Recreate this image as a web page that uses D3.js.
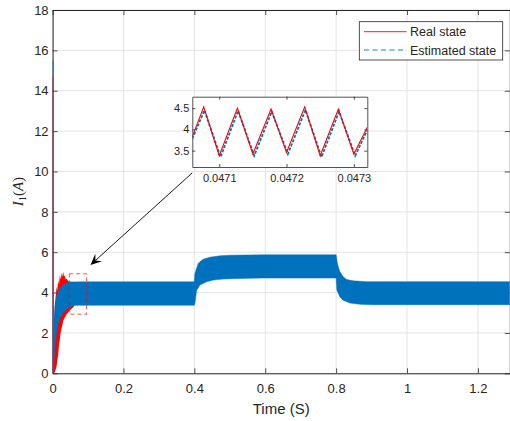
<!DOCTYPE html>
<html>
<head>
<meta charset="utf-8">
<script src="https://cdn.jsdelivr.net/npm/d3@7"></script>
<style>
  body { margin: 0; background: #fff; }
  text { font-family: "Liberation Sans", Arial, sans-serif; fill: #262626; }
</style>
</head>
<body>
<svg id="chart"></svg>
<script>
// taille de la figure
const width = 510, height = 421;

// ---- données ----
const xTicks = [0, 0.2, 0.4, 0.6, 0.8, 1, 1.2];
const yTicks = [0, 2, 4, 6, 8, 10, 12, 14, 16, 18];

// enveloppe de l'état estimé (bande bleue), [t, I1]
const estUpper = [[0,0.3],[0.0018,1.5],[0.0037,2.6],[0.0065,3.3],[0.0113,3.8],[0.016,4.05],[0.0206,4.22],
  [0.030,4.38],[0.0394,4.47],[0.0488,4.52],[0.08,4.53],[0.3996,4.53],[0.4015,4.95],[0.411,5.45],
  [0.425,5.65],[0.444,5.75],[0.472,5.82],[0.5,5.85],[0.6,5.87],[0.8,5.87],[0.803,5.5],[0.806,5.28],
  [0.8107,5.03],[0.82,4.78],[0.8296,4.65],[0.848,4.58],[0.886,4.54],[1.29,4.54]];
const estLower = [[0,0],[0.002,0.16],[0.0065,1.32],[0.0113,2.07],[0.016,2.48],[0.0206,2.73],[0.030,3.0],
  [0.0395,3.17],[0.0488,3.28],[0.058,3.35],[0.067,3.37],[0.3996,3.37],[0.4015,3.45],[0.4063,4.1],
  [0.4156,4.37],[0.4345,4.53],[0.4534,4.62],[0.4814,4.67],[0.5285,4.7],[0.594,4.72],[0.8,4.72],
  [0.802,4.12],[0.8107,3.78],[0.82,3.62],[0.839,3.48],[0.867,3.42],[0.905,3.4],[1.29,3.4]];

// enveloppe de l'état réel au démarrage (rouge)
const realUpper = [[0.002,1.0],[0.0065,3.4],[0.0113,4.3],[0.013,4.1],[0.016,4.6],[0.018,4.4],[0.0206,4.88],
  [0.023,4.65],[0.026,5.0],[0.028,4.8],[0.030,5.04],[0.032,4.8],[0.034,4.85],[0.037,4.65],[0.040,4.68],
  [0.044,4.56],[0.05,4.53],[0.06,4.52]];
const realLower = [[0.002,0],[0.0065,0.05],[0.0113,0.35],[0.013,0.6],[0.016,0.95],[0.018,1.4],[0.0206,1.7],
  [0.023,2.05],[0.0254,2.25],[0.028,2.4],[0.030,2.6],[0.034,2.75],[0.0395,2.92],[0.0488,3.12],[0.06,3.3]];

// pic initial
const estSpike = [[0,0],[0.0004,15.5],[0.0009,0.5]];
const realSpike = [[0,0],[0.0004,14.7],[0.0009,0.3]];

// zoom (encart)
const insetXTicks = [0.0471, 0.0472, 0.0473];
const insetYTicks = [3.5, 4, 4.5];
const realInsetT = [0.04706, 0.047077, 0.0471, 0.047127, 0.04715, 0.047177, 0.0472, 0.047227, 0.04725, 0.047277, 0.0473, 0.04732];
const realInsetV = [3.83, 4.53, 3.38, 4.5, 3.42, 4.48, 3.46, 4.53, 3.38, 4.48, 3.42, 4.05];
const estInsetT = [0.04706, 0.047078, 0.047102, 0.047128, 0.047152, 0.047178, 0.047202, 0.047228, 0.047252, 0.047278, 0.047302, 0.04732];
const estInsetV = [3.78, 4.45, 3.35, 4.44, 3.38, 4.42, 3.42, 4.46, 3.35, 4.42, 3.38, 3.98];

// rectangle de zoom et flèche (coordonnées des données)
const zoomBox = { t0: 0.047, t1: 0.096, y0: 2.93, y1: 4.93 };
const arrowFrom = [0.394, 9.93], arrowTo = [0.107, 5.37];

const blue = "#0072BD", red = "#FF0000", axisColor = "#262626", gridColor = "#e4e4e4";

const svg = d3.select("#chart").attr("width", width).attr("height", height);
svg.append("rect").attr("width", width).attr("height", height).attr("fill", "#fff");

// échelles
const x = d3.scaleLinear().domain([0, 1.29]).range([52.6, 509.8]);
const y = d3.scaleLinear().domain([0, 18]).range([373.3, 10]);
const [L, R] = x.range(), [B, T] = y.range();

// grille
svg.append("g").selectAll("line").data(xTicks).join("line")
  .attr("x1", d => x(d)).attr("x2", d => x(d)).attr("y1", T).attr("y2", B)
  .attr("stroke", gridColor);
svg.append("g").selectAll("line").data(yTicks).join("line")
  .attr("x1", L).attr("x2", R).attr("y1", d => y(d)).attr("y2", d => y(d))
  .attr("stroke", gridColor);

// axes
function styleAxis(g) {
  g.selectAll("path, line").attr("stroke", axisColor).attr("stroke-width", 0.8);
  g.selectAll("text").attr("font-size", 13).style("fill", axisColor);
}
svg.append("g").attr("transform", `translate(0,${B})`)
  .call(d3.axisBottom(x).tickValues(xTicks).tickFormat(String).tickSizeInner(-5).tickSizeOuter(0).tickPadding(10))
  .call(styleAxis);
svg.append("g").attr("transform", `translate(${L},0)`)
  .call(d3.axisLeft(y).tickValues(yTicks).tickFormat(String).tickSizeInner(-5).tickSizeOuter(0).tickPadding(4))
  .call(styleAxis);
svg.append("g").attr("transform", `translate(0,${T})`)
  .call(d3.axisTop(x).tickValues(xTicks).tickFormat("").tickSizeInner(-5).tickSizeOuter(0))
  .call(styleAxis);
svg.append("g").attr("transform", `translate(${R},0)`)
  .call(d3.axisRight(y).tickValues(yTicks).tickFormat("").tickSizeInner(-5).tickSizeOuter(0))
  .call(styleAxis);
svg.selectAll(".domain").attr("stroke-width", 1);

// titres des axes
svg.append("text").attr("x", (L + R) / 2).attr("y", 413.5).attr("text-anchor", "middle")
  .attr("font-size", 15).text("Time (S)");
const yl = svg.append("text").attr("transform", `translate(22.5,${(T + B) / 2}) rotate(-90)`)
  .attr("text-anchor", "middle").attr("font-size", 15)
  .style("font-family", "'Liberation Serif', 'Times New Roman', serif");
yl.append("tspan").attr("font-style", "italic").text("I");
yl.append("tspan").attr("font-size", 10.5).attr("dy", 3).text("1");
yl.append("tspan").attr("dy", -3).text("(");
yl.append("tspan").attr("font-style", "italic").text("A");
yl.append("tspan").text(")");

// données
svg.append("clipPath").attr("id", "clip").append("rect")
  .attr("x", L).attr("y", T).attr("width", R - L).attr("height", B - T);
const plot = svg.append("g").attr("clip-path", "url(#clip)");
const line = d3.line().x(d => x(d[0])).y(d => y(d[1]));
const band = (up, lo) => line(up.concat(lo.slice().reverse())) + "Z";

plot.append("path").attr("d", band(realUpper, realLower)).attr("fill", red);
plot.append("path").attr("d", band(estUpper, estLower)).attr("fill", blue)
  .attr("stroke", blue).attr("stroke-width", 0.5);
plot.append("path").attr("d", line(estSpike)).attr("fill", "none").attr("stroke", blue).attr("stroke-width", 1.2);
plot.append("path").attr("d", line(realSpike)).attr("fill", "none").attr("stroke", red).attr("stroke-width", 0.8).attr("opacity", 0.7);

// rectangle de zoom
svg.append("rect")
  .attr("x", x(zoomBox.t0)).attr("y", y(zoomBox.y1))
  .attr("width", x(zoomBox.t1) - x(zoomBox.t0)).attr("height", y(zoomBox.y0) - y(zoomBox.y1))
  .attr("fill", "none").attr("stroke", red).attr("stroke-width", 0.9)
  .attr("stroke-dasharray", "4,3").attr("opacity", 0.75);

// flèche
const [ax0, ay0] = [x(arrowFrom[0]), y(arrowFrom[1])];
const [ax1, ay1] = [x(arrowTo[0]), y(arrowTo[1])];
const ang = Math.atan2(ay1 - ay0, ax1 - ax0), hl = 11, hw = 5;
const ux = Math.cos(ang), uy = Math.sin(ang);
svg.append("line").attr("x1", ax0).attr("y1", ay0)
  .attr("x2", ax1 - ux * hl * 0.6).attr("y2", ay1 - uy * hl * 0.6)
  .attr("stroke", "#000").attr("stroke-width", 0.9);
svg.append("path").attr("fill", "#000").attr("d",
  `M${ax1},${ay1}` +
  `L${ax1 - ux * hl - uy * hw},${ay1 - uy * hl + ux * hw}` +
  `L${ax1 - ux * hl * 0.6},${ay1 - uy * hl * 0.6}` +
  `L${ax1 - ux * hl + uy * hw},${ay1 - uy * hl - ux * hw}Z`);

// encart
const xi = d3.scaleLinear().domain([0.04706, 0.04732]).range([192.3, 367.3]);
const yi = d3.scaleLinear().domain([3.115, 4.77]).range([167, 96.7]);
const [iL, iR] = xi.range(), [iB, iT] = yi.range();
svg.append("rect").attr("x", iL).attr("y", iT).attr("width", iR - iL).attr("height", iB - iT).attr("fill", "#fff");
function styleInset(g) {
  g.selectAll("path, line").attr("stroke", axisColor).attr("stroke-width", 0.8);
  g.selectAll("text").attr("font-size", 11).style("fill", axisColor);
}
svg.append("g").attr("transform", `translate(0,${iB})`)
  .call(d3.axisBottom(xi).tickValues(insetXTicks).tickFormat(d3.format(".4f")).tickSizeInner(-3).tickSizeOuter(0).tickPadding(7))
  .call(styleInset);
svg.append("g").attr("transform", `translate(${iL},0)`)
  .call(d3.axisLeft(yi).tickValues(insetYTicks).tickFormat(String).tickSizeInner(-3).tickSizeOuter(0).tickPadding(3))
  .call(styleInset);
svg.append("g").attr("transform", `translate(0,${iT})`)
  .call(d3.axisTop(xi).tickValues(insetXTicks).tickFormat("").tickSizeInner(-3).tickSizeOuter(0))
  .call(styleInset);
svg.append("g").attr("transform", `translate(${iR},0)`)
  .call(d3.axisRight(yi).tickValues(insetYTicks).tickFormat("").tickSizeInner(-3).tickSizeOuter(0))
  .call(styleInset);

svg.append("clipPath").attr("id", "clipInset").append("rect")
  .attr("x", iL).attr("y", iT).attr("width", iR - iL).attr("height", iB - iT);
const ip = svg.append("g").attr("clip-path", "url(#clipInset)");
const lineI = d3.line().x(d => xi(d[0])).y(d => yi(d[1]));
ip.append("path").attr("d", lineI(d3.zip(estInsetT, estInsetV)))
  .attr("fill", "none").attr("stroke", blue).attr("stroke-width", 1.8).attr("stroke-dasharray", "3,1.5");
ip.append("path").attr("d", lineI(d3.zip(realInsetT, realInsetV)))
  .attr("fill", "none").attr("stroke", red).attr("stroke-width", 1.1);

// légende
const lg = svg.append("g");
lg.append("rect").attr("x", 359.3).attr("y", 21.7).attr("width", 143.4).attr("height", 38.3)
  .attr("fill", "#fff").attr("stroke", axisColor).attr("stroke-width", 0.8);
const entries = [
  { name: "Real state", color: red, dash: null },
  { name: "Estimated state", color: blue, dash: "5,3.5" }
];
entries.forEach((e, i) => {
  const yy = 31.7 + i * 18.3;
  lg.append("line").attr("x1", 364).attr("x2", 406.7).attr("y1", yy).attr("y2", yy)
    .attr("stroke", e.color).attr("stroke-width", 0.9).attr("stroke-dasharray", e.dash);
  lg.append("text").attr("x", 410).attr("y", yy + 4.5).attr("font-size", 12.5).text(e.name);
});
</script>
</body>
</html>
